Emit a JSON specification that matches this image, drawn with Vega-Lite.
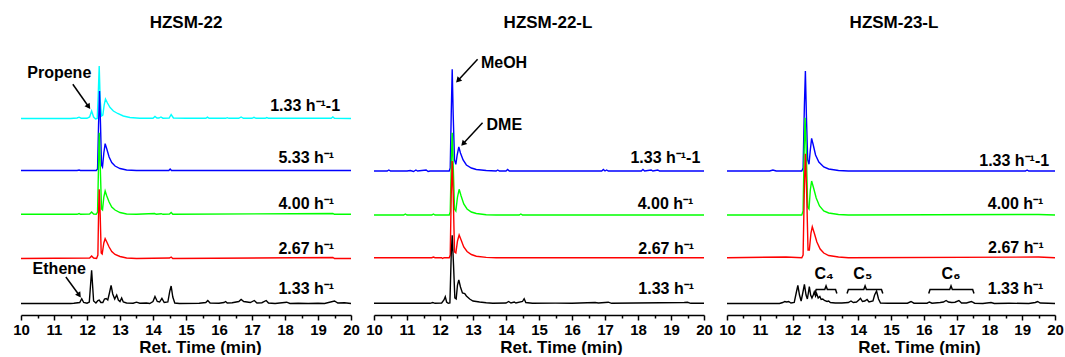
{
  "$schema": "https://vega.github.io/schema/vega-lite/v6.json",
  "autosize": {"type": "pad"},
  "padding": {"left": 12, "top": 14, "right": 3, "bottom": 0},
  "background": "white",
  "spacing": 23,
  "bounds": "flush",
  "config": {
    "view": {"stroke": null},
    "font": "Liberation Sans",
    "axis": {"grid": false, "domainColor": "black", "tickColor": "black", "labelColor": "black", "titleColor": "black", "domainWidth": 1.5, "tickWidth": 1.5, "labelFont": "Liberation Sans", "titleFont": "Liberation Sans"},
    "title": {"font": "Liberation Sans", "fontSize": 17, "fontWeight": "bold", "color": "black", "anchor": "middle", "frame": "group", "baseline": "alphabetic", "offset": 14}
  },
  "resolve": {"scale": {"color": "independent"}},
  "datasets": {
    "p1": [
      {"s":"1.33-1","t":10,"v":196.5},{"s":"1.33-1","t":11.5,"v":196.5},{"s":"1.33-1","t":11.7,"v":197},{"s":"1.33-1","t":11.76,"v":197.8},{"s":"1.33-1","t":11.82,"v":196.8},{"s":"1.33-1","t":12.0,"v":196.7},{"s":"1.33-1","t":12.08,"v":198},{"s":"1.33-1","t":12.14,"v":204},{"s":"1.33-1","t":12.2,"v":198},{"s":"1.33-1","t":12.26,"v":196},{"s":"1.33-1","t":12.31,"v":196.5},{"s":"1.33-1","t":12.34,"v":220},{"s":"1.33-1","t":12.37,"v":249},{"s":"1.33-1","t":12.4,"v":215},{"s":"1.33-1","t":12.44,"v":199},{"s":"1.33-1","t":12.48,"v":200},{"s":"1.33-1","t":12.52,"v":210},{"s":"1.33-1","t":12.56,"v":216},{"s":"1.33-1","t":12.62,"v":212},{"s":"1.33-1","t":12.7,"v":207.5},{"s":"1.33-1","t":12.8,"v":204},{"s":"1.33-1","t":12.93,"v":201.5},{"s":"1.33-1","t":13.1,"v":199},{"s":"1.33-1","t":13.3,"v":197.5},{"s":"1.33-1","t":13.6,"v":196.8},{"s":"1.33-1","t":14.0,"v":196.8},{"s":"1.33-1","t":14.06,"v":198.5},{"s":"1.33-1","t":14.12,"v":197},{"s":"1.33-1","t":14.18,"v":197},{"s":"1.33-1","t":14.24,"v":198},{"s":"1.33-1","t":14.3,"v":196.8},{"s":"1.33-1","t":14.49,"v":197},{"s":"1.33-1","t":14.55,"v":200.5},{"s":"1.33-1","t":14.62,"v":197},{"s":"1.33-1","t":15.0,"v":196.7},{"s":"1.33-1","t":15.6,"v":196.7},{"s":"1.33-1","t":15.65,"v":197.8},{"s":"1.33-1","t":15.7,"v":196.7},{"s":"1.33-1","t":16.2,"v":196.7},{"s":"1.33-1","t":16.25,"v":197.3},{"s":"1.33-1","t":16.3,"v":196.7},{"s":"1.33-1","t":16.6,"v":196.7},{"s":"1.33-1","t":16.67,"v":198},{"s":"1.33-1","t":16.74,"v":196.7},{"s":"1.33-1","t":17.0,"v":196.7},{"s":"1.33-1","t":17.06,"v":197.7},{"s":"1.33-1","t":17.12,"v":196.7},{"s":"1.33-1","t":17.4,"v":196.7},{"s":"1.33-1","t":17.45,"v":197.5},{"s":"1.33-1","t":17.5,"v":196.7},{"s":"1.33-1","t":19.4,"v":196.7},{"s":"1.33-1","t":19.45,"v":198},{"s":"1.33-1","t":19.5,"v":196.7},{"s":"1.33-1","t":20,"v":196.5},
      {"s":"5.33","t":10,"v":144.5},{"s":"5.33","t":11.7,"v":144.5},{"s":"5.33","t":11.76,"v":145},{"s":"5.33","t":11.8,"v":144.5},{"s":"5.33","t":12.28,"v":144.5},{"s":"5.33","t":12.32,"v":146},{"s":"5.33","t":12.35,"v":190},{"s":"5.33","t":12.38,"v":224},{"s":"5.33","t":12.41,"v":190},{"s":"5.33","t":12.44,"v":150},{"s":"5.33","t":12.47,"v":148},{"s":"5.33","t":12.51,"v":162},{"s":"5.33","t":12.55,"v":171.3},{"s":"5.33","t":12.6,"v":166},{"s":"5.33","t":12.67,"v":158},{"s":"5.33","t":12.75,"v":152.5},{"s":"5.33","t":12.85,"v":149},{"s":"5.33","t":13.0,"v":146.5},{"s":"5.33","t":13.2,"v":145},{"s":"5.33","t":13.5,"v":144.5},{"s":"5.33","t":14.48,"v":144.5},{"s":"5.33","t":14.52,"v":146},{"s":"5.33","t":14.56,"v":144.5},{"s":"5.33","t":20,"v":144.5},
      {"s":"4.00","t":10,"v":100.7},{"s":"4.00","t":11.7,"v":100.7},{"s":"4.00","t":11.76,"v":101.5},{"s":"4.00","t":11.8,"v":100.7},{"s":"4.00","t":12.08,"v":101},{"s":"4.00","t":12.14,"v":103},{"s":"4.00","t":12.2,"v":101},{"s":"4.00","t":12.28,"v":100.7},{"s":"4.00","t":12.32,"v":103},{"s":"4.00","t":12.35,"v":150},{"s":"4.00","t":12.37,"v":182.3},{"s":"4.00","t":12.4,"v":150},{"s":"4.00","t":12.44,"v":106},{"s":"4.00","t":12.47,"v":105},{"s":"4.00","t":12.51,"v":118},{"s":"4.00","t":12.55,"v":124},{"s":"4.00","t":12.6,"v":119},{"s":"4.00","t":12.67,"v":113},{"s":"4.00","t":12.75,"v":108},{"s":"4.00","t":12.85,"v":105},{"s":"4.00","t":13.0,"v":102.5},{"s":"4.00","t":13.2,"v":101},{"s":"4.00","t":13.5,"v":100.7},{"s":"4.00","t":14.05,"v":101.5},{"s":"4.00","t":14.1,"v":100.7},{"s":"4.00","t":14.25,"v":101.3},{"s":"4.00","t":14.3,"v":100.7},{"s":"4.00","t":14.5,"v":101},{"s":"4.00","t":14.55,"v":102.5},{"s":"4.00","t":14.6,"v":100.7},{"s":"4.00","t":19.45,"v":101.5},{"s":"4.00","t":19.5,"v":100.7},{"s":"4.00","t":20,"v":100.7},
      {"s":"2.67","t":10,"v":56.5},{"s":"2.67","t":12.08,"v":57},{"s":"2.67","t":12.14,"v":59},{"s":"2.67","t":12.2,"v":57},{"s":"2.67","t":12.29,"v":56.5},{"s":"2.67","t":12.33,"v":60},{"s":"2.67","t":12.35,"v":100},{"s":"2.67","t":12.37,"v":125.7},{"s":"2.67","t":12.4,"v":100},{"s":"2.67","t":12.43,"v":62},{"s":"2.67","t":12.46,"v":61},{"s":"2.67","t":12.51,"v":72},{"s":"2.67","t":12.55,"v":76.3},{"s":"2.67","t":12.6,"v":73},{"s":"2.67","t":12.67,"v":68},{"s":"2.67","t":12.75,"v":63.5},{"s":"2.67","t":12.85,"v":60.5},{"s":"2.67","t":13.0,"v":58.5},{"s":"2.67","t":13.2,"v":57},{"s":"2.67","t":13.5,"v":56.5},{"s":"2.67","t":14.5,"v":57},{"s":"2.67","t":14.55,"v":58},{"s":"2.67","t":14.6,"v":56.5},{"s":"2.67","t":19.45,"v":57.5},{"s":"2.67","t":19.5,"v":56.5},{"s":"2.67","t":20,"v":56.5},
      {"s":"1.33","t":10,"v":11.5},{"s":"1.33","t":11.5,"v":11.5},{"s":"1.33","t":11.6,"v":11.8},{"s":"1.33","t":11.78,"v":12.5},{"s":"1.33","t":11.84,"v":16.3},{"s":"1.33","t":11.9,"v":12.5},{"s":"1.33","t":12.0,"v":11.8},{"s":"1.33","t":12.07,"v":13},{"s":"1.33","t":12.14,"v":44.7},{"s":"1.33","t":12.2,"v":14},{"s":"1.33","t":12.27,"v":12},{"s":"1.33","t":12.33,"v":14.5},{"s":"1.33","t":12.37,"v":15},{"s":"1.33","t":12.42,"v":12.5},{"s":"1.33","t":12.48,"v":12.5},{"s":"1.33","t":12.53,"v":16},{"s":"1.33","t":12.58,"v":16.5},{"s":"1.33","t":12.63,"v":15},{"s":"1.33","t":12.68,"v":22},{"s":"1.33","t":12.73,"v":29.7},{"s":"1.33","t":12.78,"v":21},{"s":"1.33","t":12.84,"v":16},{"s":"1.33","t":12.9,"v":20},{"s":"1.33","t":12.95,"v":15},{"s":"1.33","t":13.0,"v":13.5},{"s":"1.33","t":13.05,"v":17},{"s":"1.33","t":13.1,"v":13},{"s":"1.33","t":13.2,"v":12},{"s":"1.33","t":13.4,"v":11.8},{"s":"1.33","t":13.5,"v":12.8},{"s":"1.33","t":13.6,"v":11.8},{"s":"1.33","t":13.8,"v":12},{"s":"1.33","t":13.9,"v":11.5},{"s":"1.33","t":14.0,"v":13.5},{"s":"1.33","t":14.06,"v":18.5},{"s":"1.33","t":14.13,"v":13.5},{"s":"1.33","t":14.2,"v":13},{"s":"1.33","t":14.27,"v":16.7},{"s":"1.33","t":14.34,"v":12.5},{"s":"1.33","t":14.45,"v":13},{"s":"1.33","t":14.51,"v":24},{"s":"1.33","t":14.55,"v":29},{"s":"1.33","t":14.6,"v":18},{"s":"1.33","t":14.66,"v":12},{"s":"1.33","t":14.8,"v":11.5},{"s":"1.33","t":15.4,"v":11.8},{"s":"1.33","t":15.6,"v":12.5},{"s":"1.33","t":15.66,"v":14.5},{"s":"1.33","t":15.73,"v":12},{"s":"1.33","t":16.0,"v":11.7},{"s":"1.33","t":16.15,"v":12.5},{"s":"1.33","t":16.2,"v":13.5},{"s":"1.33","t":16.25,"v":12},{"s":"1.33","t":16.4,"v":12.3},{"s":"1.33","t":16.6,"v":13.5},{"s":"1.33","t":16.67,"v":15.5},{"s":"1.33","t":16.75,"v":13.5},{"s":"1.33","t":16.85,"v":13},{"s":"1.33","t":16.95,"v":12.5},{"s":"1.33","t":17.07,"v":14.5},{"s":"1.33","t":17.15,"v":12},{"s":"1.33","t":17.3,"v":12.3},{"s":"1.33","t":17.43,"v":14.5},{"s":"1.33","t":17.5,"v":12},{"s":"1.33","t":17.7,"v":11.5},{"s":"1.33","t":18.05,"v":12.8},{"s":"1.33","t":18.15,"v":11.5},{"s":"1.33","t":18.4,"v":11.8},{"s":"1.33","t":18.7,"v":11.5},{"s":"1.33","t":19.0,"v":11.8},{"s":"1.33","t":19.2,"v":11.5},{"s":"1.33","t":19.5,"v":14},{"s":"1.33","t":19.6,"v":12},{"s":"1.33","t":19.8,"v":12.3},{"s":"1.33","t":20,"v":11.5}
    ],
    "p2": [
      {"s":"1.33-1","t":10,"v":144},{"s":"1.33-1","t":10.4,"v":144},{"s":"1.33-1","t":10.45,"v":145},{"s":"1.33-1","t":10.5,"v":144},{"s":"1.33-1","t":11.0,"v":144},{"s":"1.33-1","t":11.1,"v":144.5},{"s":"1.33-1","t":11.2,"v":143.5},{"s":"1.33-1","t":11.27,"v":145},{"s":"1.33-1","t":11.32,"v":144},{"s":"1.33-1","t":11.58,"v":145},{"s":"1.33-1","t":11.64,"v":143.5},{"s":"1.33-1","t":11.7,"v":144},{"s":"1.33-1","t":12.28,"v":144},{"s":"1.33-1","t":12.31,"v":147},{"s":"1.33-1","t":12.34,"v":200},{"s":"1.33-1","t":12.37,"v":245.7},{"s":"1.33-1","t":12.4,"v":200},{"s":"1.33-1","t":12.44,"v":155},{"s":"1.33-1","t":12.48,"v":150.7},{"s":"1.33-1","t":12.52,"v":160},{"s":"1.33-1","t":12.57,"v":168},{"s":"1.33-1","t":12.62,"v":162},{"s":"1.33-1","t":12.7,"v":155},{"s":"1.33-1","t":12.8,"v":150},{"s":"1.33-1","t":12.95,"v":147},{"s":"1.33-1","t":13.1,"v":145.5},{"s":"1.33-1","t":13.4,"v":144.5},{"s":"1.33-1","t":13.7,"v":144},{"s":"1.33-1","t":13.75,"v":145},{"s":"1.33-1","t":13.8,"v":144},{"s":"1.33-1","t":14.0,"v":144},{"s":"1.33-1","t":14.05,"v":145.5},{"s":"1.33-1","t":14.1,"v":144},{"s":"1.33-1","t":16.9,"v":144},{"s":"1.33-1","t":16.95,"v":145.5},{"s":"1.33-1","t":17.0,"v":144},{"s":"1.33-1","t":17.05,"v":145},{"s":"1.33-1","t":17.1,"v":144},{"s":"1.33-1","t":18.1,"v":144},{"s":"1.33-1","t":18.15,"v":145.5},{"s":"1.33-1","t":18.2,"v":144},{"s":"1.33-1","t":18.4,"v":145},{"s":"1.33-1","t":18.45,"v":144},{"s":"1.33-1","t":18.6,"v":145},{"s":"1.33-1","t":18.65,"v":144},{"s":"1.33-1","t":20,"v":144},
      {"s":"4.00","t":10,"v":100},{"s":"4.00","t":10.9,"v":100},{"s":"4.00","t":10.95,"v":101},{"s":"4.00","t":11.0,"v":100},{"s":"4.00","t":11.75,"v":100},{"s":"4.00","t":11.8,"v":101},{"s":"4.00","t":11.85,"v":100},{"s":"4.00","t":12.28,"v":100},{"s":"4.00","t":12.31,"v":103},{"s":"4.00","t":12.34,"v":150},{"s":"4.00","t":12.37,"v":182.3},{"s":"4.00","t":12.4,"v":150},{"s":"4.00","t":12.44,"v":106},{"s":"4.00","t":12.48,"v":104},{"s":"4.00","t":12.53,"v":118},{"s":"4.00","t":12.58,"v":125.7},{"s":"4.00","t":12.64,"v":119},{"s":"4.00","t":12.72,"v":111},{"s":"4.00","t":12.82,"v":106},{"s":"4.00","t":12.95,"v":103},{"s":"4.00","t":13.1,"v":101.5},{"s":"4.00","t":13.4,"v":100.3},{"s":"4.00","t":13.7,"v":100},{"s":"4.00","t":14.4,"v":100},{"s":"4.00","t":14.45,"v":101},{"s":"4.00","t":14.5,"v":100},{"s":"4.00","t":20,"v":100},
      {"s":"2.67","t":10,"v":57.3},{"s":"2.67","t":11.75,"v":57.3},{"s":"2.67","t":11.8,"v":58},{"s":"2.67","t":11.85,"v":57.3},{"s":"2.67","t":12.05,"v":57.3},{"s":"2.67","t":12.08,"v":56.5},{"s":"2.67","t":12.12,"v":57.3},{"s":"2.67","t":12.28,"v":57.3},{"s":"2.67","t":12.31,"v":60},{"s":"2.67","t":12.34,"v":120},{"s":"2.67","t":12.37,"v":154},{"s":"2.67","t":12.4,"v":120},{"s":"2.67","t":12.44,"v":63},{"s":"2.67","t":12.48,"v":62},{"s":"2.67","t":12.53,"v":74},{"s":"2.67","t":12.58,"v":80},{"s":"2.67","t":12.64,"v":75},{"s":"2.67","t":12.72,"v":68},{"s":"2.67","t":12.82,"v":63.5},{"s":"2.67","t":12.95,"v":60.5},{"s":"2.67","t":13.1,"v":58.8},{"s":"2.67","t":13.4,"v":57.6},{"s":"2.67","t":13.7,"v":57.3},{"s":"2.67","t":20,"v":57.3},
      {"s":"1.33","t":10,"v":11.7},{"s":"1.33","t":11.7,"v":11.7},{"s":"1.33","t":11.78,"v":12.5},{"s":"1.33","t":11.85,"v":11.7},{"s":"1.33","t":12.05,"v":12},{"s":"1.33","t":12.12,"v":15},{"s":"1.33","t":12.16,"v":18.3},{"s":"1.33","t":12.2,"v":13},{"s":"1.33","t":12.25,"v":11.7},{"s":"1.33","t":12.3,"v":12},{"s":"1.33","t":12.34,"v":60},{"s":"1.33","t":12.37,"v":79.7},{"s":"1.33","t":12.41,"v":50},{"s":"1.33","t":12.45,"v":17},{"s":"1.33","t":12.49,"v":16},{"s":"1.33","t":12.53,"v":30},{"s":"1.33","t":12.57,"v":35},{"s":"1.33","t":12.62,"v":28},{"s":"1.33","t":12.68,"v":22},{"s":"1.33","t":12.75,"v":21.5},{"s":"1.33","t":12.8,"v":19},{"s":"1.33","t":12.9,"v":16},{"s":"1.33","t":13.0,"v":14},{"s":"1.33","t":13.2,"v":13},{"s":"1.33","t":13.4,"v":12.2},{"s":"1.33","t":13.6,"v":11.8},{"s":"1.33","t":14.0,"v":12},{"s":"1.33","t":14.08,"v":13.5},{"s":"1.33","t":14.15,"v":12},{"s":"1.33","t":14.25,"v":13},{"s":"1.33","t":14.3,"v":12},{"s":"1.33","t":14.5,"v":13.5},{"s":"1.33","t":14.55,"v":16.3},{"s":"1.33","t":14.6,"v":12.5},{"s":"1.33","t":14.8,"v":11.7},{"s":"1.33","t":15.5,"v":11.9},{"s":"1.33","t":16.0,"v":11.7},{"s":"1.33","t":16.7,"v":12.5},{"s":"1.33","t":16.8,"v":12},{"s":"1.33","t":17.1,"v":12.8},{"s":"1.33","t":17.2,"v":11.7},{"s":"1.33","t":19.4,"v":12.5},{"s":"1.33","t":19.5,"v":12.7},{"s":"1.33","t":19.6,"v":11.7},{"s":"1.33","t":20,"v":11.7}
    ],
    "p3": [
      {"s":"1.33-1","t":10,"v":144},{"s":"1.33-1","t":11.3,"v":144},{"s":"1.33-1","t":11.4,"v":145},{"s":"1.33-1","t":11.5,"v":144},{"s":"1.33-1","t":12.28,"v":144},{"s":"1.33-1","t":12.32,"v":147},{"s":"1.33-1","t":12.36,"v":210},{"s":"1.33-1","t":12.39,"v":244},{"s":"1.33-1","t":12.42,"v":200},{"s":"1.33-1","t":12.46,"v":155},{"s":"1.33-1","t":12.5,"v":150.7},{"s":"1.33-1","t":12.54,"v":165},{"s":"1.33-1","t":12.58,"v":176.7},{"s":"1.33-1","t":12.63,"v":170},{"s":"1.33-1","t":12.7,"v":160},{"s":"1.33-1","t":12.8,"v":153},{"s":"1.33-1","t":12.95,"v":148},{"s":"1.33-1","t":13.1,"v":146},{"s":"1.33-1","t":13.4,"v":144.5},{"s":"1.33-1","t":13.7,"v":144},{"s":"1.33-1","t":19.1,"v":144},{"s":"1.33-1","t":19.15,"v":145},{"s":"1.33-1","t":19.2,"v":144},{"s":"1.33-1","t":20,"v":144},
      {"s":"4.00","t":10,"v":100},{"s":"4.00","t":12.28,"v":100},{"s":"4.00","t":12.32,"v":104},{"s":"4.00","t":12.35,"v":160},{"s":"4.00","t":12.38,"v":197.3},{"s":"4.00","t":12.42,"v":160},{"s":"4.00","t":12.46,"v":108},{"s":"4.00","t":12.5,"v":106},{"s":"4.00","t":12.54,"v":125},{"s":"4.00","t":12.58,"v":134},{"s":"4.00","t":12.64,"v":127},{"s":"4.00","t":12.72,"v":117},{"s":"4.00","t":12.82,"v":109},{"s":"4.00","t":12.95,"v":104},{"s":"4.00","t":13.1,"v":102},{"s":"4.00","t":13.4,"v":100.5},{"s":"4.00","t":13.7,"v":100},{"s":"4.00","t":19.5,"v":100.5},{"s":"4.00","t":20,"v":100},
      {"s":"2.67","t":10,"v":57.3},{"s":"2.67","t":11.8,"v":58},{"s":"2.67","t":12.28,"v":57.3},{"s":"2.67","t":12.32,"v":60},{"s":"2.67","t":12.36,"v":130},{"s":"2.67","t":12.39,"v":161.3},{"s":"2.67","t":12.43,"v":120},{"s":"2.67","t":12.47,"v":65},{"s":"2.67","t":12.51,"v":65},{"s":"2.67","t":12.56,"v":82},{"s":"2.67","t":12.6,"v":88.3},{"s":"2.67","t":12.66,"v":82},{"s":"2.67","t":12.74,"v":73},{"s":"2.67","t":12.84,"v":66},{"s":"2.67","t":12.95,"v":62},{"s":"2.67","t":13.1,"v":59.5},{"s":"2.67","t":13.4,"v":58},{"s":"2.67","t":13.7,"v":57.3},{"s":"2.67","t":19.5,"v":58},{"s":"2.67","t":20,"v":57.3},
      {"s":"1.33","t":10,"v":11.5},{"s":"1.33","t":11.6,"v":11.5},{"s":"1.33","t":11.7,"v":12.5},{"s":"1.33","t":11.76,"v":13.5},{"s":"1.33","t":11.82,"v":13},{"s":"1.33","t":11.88,"v":13.5},{"s":"1.33","t":11.95,"v":12},{"s":"1.33","t":12.05,"v":12.5},{"s":"1.33","t":12.11,"v":22},{"s":"1.33","t":12.16,"v":29.7},{"s":"1.33","t":12.21,"v":20},{"s":"1.33","t":12.26,"v":14},{"s":"1.33","t":12.31,"v":22},{"s":"1.33","t":12.36,"v":30.7},{"s":"1.33","t":12.41,"v":20},{"s":"1.33","t":12.45,"v":16},{"s":"1.33","t":12.48,"v":22},{"s":"1.33","t":12.51,"v":28.3},{"s":"1.33","t":12.55,"v":20},{"s":"1.33","t":12.59,"v":17},{"s":"1.33","t":12.63,"v":20},{"s":"1.33","t":12.66,"v":23},{"s":"1.33","t":12.7,"v":19},{"s":"1.33","t":12.73,"v":21.7},{"s":"1.33","t":12.78,"v":17},{"s":"1.33","t":12.83,"v":18.5},{"s":"1.33","t":12.87,"v":15.5},{"s":"1.33","t":12.92,"v":16},{"s":"1.33","t":12.97,"v":14.5},{"s":"1.33","t":13.05,"v":13.5},{"s":"1.33","t":13.1,"v":14},{"s":"1.33","t":13.15,"v":12.5},{"s":"1.33","t":13.3,"v":12},{"s":"1.33","t":13.5,"v":12},{"s":"1.33","t":13.7,"v":12.5},{"s":"1.33","t":13.78,"v":14},{"s":"1.33","t":13.85,"v":12.5},{"s":"1.33","t":13.95,"v":13},{"s":"1.33","t":14.02,"v":15},{"s":"1.33","t":14.07,"v":16.7},{"s":"1.33","t":14.13,"v":13.5},{"s":"1.33","t":14.2,"v":14},{"s":"1.33","t":14.27,"v":15.5},{"s":"1.33","t":14.33,"v":13},{"s":"1.33","t":14.45,"v":14},{"s":"1.33","t":14.5,"v":20},{"s":"1.33","t":14.56,"v":24},{"s":"1.33","t":14.62,"v":16},{"s":"1.33","t":14.68,"v":12},{"s":"1.33","t":14.9,"v":11.8},{"s":"1.33","t":15.5,"v":11.8},{"s":"1.33","t":15.61,"v":13.5},{"s":"1.33","t":15.7,"v":11.8},{"s":"1.33","t":16.1,"v":11.8},{"s":"1.33","t":16.17,"v":13},{"s":"1.33","t":16.25,"v":11.8},{"s":"1.33","t":16.5,"v":12.5},{"s":"1.33","t":16.6,"v":13},{"s":"1.33","t":16.68,"v":14.5},{"s":"1.33","t":16.75,"v":13},{"s":"1.33","t":16.85,"v":12.5},{"s":"1.33","t":16.95,"v":12.8},{"s":"1.33","t":17.07,"v":14.5},{"s":"1.33","t":17.15,"v":12},{"s":"1.33","t":17.3,"v":12},{"s":"1.33","t":17.45,"v":13.5},{"s":"1.33","t":17.55,"v":11.8},{"s":"1.33","t":17.8,"v":11.5},{"s":"1.33","t":18.05,"v":12.5},{"s":"1.33","t":18.15,"v":11.5},{"s":"1.33","t":18.6,"v":11.8},{"s":"1.33","t":19.2,"v":11.5},{"s":"1.33","t":19.4,"v":12.5},{"s":"1.33","t":19.47,"v":13.5},{"s":"1.33","t":19.55,"v":12},{"s":"1.33","t":19.8,"v":11.8},{"s":"1.33","t":20,"v":11.5}
    ],
    "lab1": [{"t":17.55,"v":209,"text":"1.33 h⁻¹-1"},{"t":17.8,"v":157.3,"text":"5.33 h⁻¹"},{"t":17.8,"v":111,"text":"4.00 h⁻¹"},{"t":17.8,"v":66,"text":"2.67 h⁻¹"},{"t":17.8,"v":26,"text":"1.33 h⁻¹"}],
    "lab2": [{"t":17.77,"v":157.3,"text":"1.33 h⁻¹-1"},{"t":17.99,"v":110.7,"text":"4.00 h⁻¹"},{"t":18.01,"v":66.3,"text":"2.67 h⁻¹"},{"t":18.01,"v":25.7,"text":"1.33 h⁻¹"}],
    "lab3": [{"t":17.69,"v":154,"text":"1.33 h⁻¹-1"},{"t":17.95,"v":110.7,"text":"4.00 h⁻¹"},{"t":17.96,"v":66.7,"text":"2.67 h⁻¹"},{"t":17.95,"v":25.7,"text":"1.33 h⁻¹"}],
    "note1": [{"t":11.16,"v":242.3,"text":"Propene"},{"t":11.16,"v":45.7,"text":"Ethene"}],
    "note2": [{"t":13.94,"v":252.3,"text":"MeOH"},{"t":13.95,"v":190,"text":"DME"}],
    "note3": [{"t":12.96,"v":41,"text":"C₄"},{"t":14.14,"v":41,"text":"C₅"},{"t":16.83,"v":41,"text":"C₆"}],
    "arr1": [{"t1":11.57,"v1":230.7,"t2":12.05,"v2":208.2},{"t1":11.36,"v1":38,"t2":11.765,"v2":19.7}],
    "arr2": [{"t1":13.14,"v1":255.7,"t2":12.545,"v2":234.5},{"t1":13.29,"v1":192.3,"t2":12.7,"v2":171.2}],
    "br3": [
      {"b":"C4","t":12.68,"v":21.5},{"b":"C4","t":12.72,"v":25.5},{"b":"C4","t":12.98,"v":25.5},{"b":"C4","t":13.02,"v":29},{"b":"C4","t":13.06,"v":25.5},{"b":"C4","t":13.31,"v":25.5},{"b":"C4","t":13.35,"v":21.5},
      {"b":"C5","t":13.66,"v":21.5},{"b":"C5","t":13.7,"v":25.5},{"b":"C5","t":14.17,"v":25.5},{"b":"C5","t":14.21,"v":29},{"b":"C5","t":14.25,"v":25.5},{"b":"C5","t":14.71,"v":25.5},{"b":"C5","t":14.75,"v":21.5},
      {"b":"C6","t":16.15,"v":21.5},{"b":"C6","t":16.19,"v":25.5},{"b":"C6","t":16.79,"v":25.5},{"b":"C6","t":16.83,"v":29},{"b":"C6","t":16.87,"v":25.5},{"b":"C6","t":17.49,"v":25.5},{"b":"C6","t":17.53,"v":21.5}
    ]
  },
  "hconcat": [
    {
      "width": 330, "height": 269,
      "title": {"text": "HZSM-22"},
      "resolve": {"axis": {"x": "independent"}},
      "layer": [
        {"data": {"name": "p1"}, "mark": {"type": "line", "strokeWidth": 1.4},
         "encoding": {
           "x": {"field": "t", "type": "quantitative", "scale": {"domain": [10, 20], "nice": false, "zero": false},
                 "axis": {"orient": "bottom", "values": [10,11,12,13,14,15,16,17,18,19,20], "format": "d", "tickSize": 5, "labelFontSize": 15, "labelFontWeight": "bold", "labelPadding": 2, "labelFlush": false, "labelOverlap": false, "title": "Ret. Time (min)", "titleFontSize": 17, "titleFontWeight": "bold", "titlePadding": 2, "titleX": 179}},
           "y": {"field": "v", "type": "quantitative", "scale": {"domain": [0, 269], "nice": false, "zero": false}, "axis": null},
           "color": {"field": "s", "type": "nominal", "scale": {"domain": ["1.33-1", "5.33", "4.00", "2.67", "1.33"], "range": ["#00FFFF", "#0000FF", "#00FF00", "#FF0000", "#000000"]}, "legend": null}
         }},
        {"data": {"name": "lab1"}, "mark": {"type": "text", "align": "left", "baseline": "middle", "fontSize": 16, "fontWeight": "bold", "font": "Liberation Sans", "color": "black"},
         "encoding": {
           "x": {"field": "t", "type": "quantitative", "axis": {"orient": "bottom", "values": [10.5,11.5,12.5,13.5,14.5,15.5,16.5,17.5,18.5,19.5], "labels": false, "domain": false, "tickSize": 3, "title": null}},
           "y": {"field": "v", "type": "quantitative", "axis": null},
           "text": {"field": "text"}
         }},
        {"data": {"name": "note1"}, "mark": {"type": "text", "align": "center", "baseline": "middle", "fontSize": 16, "fontWeight": "bold", "font": "Liberation Sans", "color": "black"},
         "encoding": {
           "x": {"field": "t", "type": "quantitative", "axis": null},
           "y": {"field": "v", "type": "quantitative", "axis": null},
           "text": {"field": "text"}
         }},
        {"data": {"name": "arr1"}, "mark": {"type": "rule", "strokeWidth": 1.5, "color": "black"},
         "encoding": {
           "x": {"field": "t1", "type": "quantitative", "axis": null},
           "y": {"field": "v1", "type": "quantitative", "axis": null},
           "x2": {"field": "t2"}, "y2": {"field": "v2"}
         }},
        {"data": {"name": "arr1"}, "mark": {"type": "point", "shape": "triangle-up", "filled": true, "size": 40, "angle": 145, "color": "black", "opacity": 1},
         "encoding": {
           "x": {"field": "t2", "type": "quantitative", "axis": null},
           "y": {"field": "v2", "type": "quantitative", "axis": null}
         }}
      ]
    },
    {
      "width": 330, "height": 269,
      "title": {"text": "HZSM-22-L", "dx": 9},
      "resolve": {"axis": {"x": "independent"}},
      "layer": [
        {"data": {"name": "p2"}, "mark": {"type": "line", "strokeWidth": 1.4},
         "encoding": {
           "x": {"field": "t", "type": "quantitative", "scale": {"domain": [10, 20], "nice": false, "zero": false},
                 "axis": {"orient": "bottom", "values": [10,11,12,13,14,15,16,17,18,19,20], "format": "d", "tickSize": 5, "labelFontSize": 15, "labelFontWeight": "bold", "labelPadding": 2, "labelFlush": false, "labelOverlap": false, "title": "Ret. Time (min)", "titleFontSize": 17, "titleFontWeight": "bold", "titlePadding": 2, "titleX": 187}},
           "y": {"field": "v", "type": "quantitative", "scale": {"domain": [0, 269], "nice": false, "zero": false}, "axis": null},
           "color": {"field": "s", "type": "nominal", "scale": {"domain": ["1.33-1", "4.00", "2.67", "1.33"], "range": ["#0000FF", "#00FF00", "#FF0000", "#000000"]}, "legend": null}
         }},
        {"data": {"name": "lab2"}, "mark": {"type": "text", "align": "left", "baseline": "middle", "fontSize": 16, "fontWeight": "bold", "font": "Liberation Sans", "color": "black"},
         "encoding": {
           "x": {"field": "t", "type": "quantitative", "axis": {"orient": "bottom", "values": [10.5,11.5,12.5,13.5,14.5,15.5,16.5,17.5,18.5,19.5], "labels": false, "domain": false, "tickSize": 3, "title": null}},
           "y": {"field": "v", "type": "quantitative", "axis": null},
           "text": {"field": "text"}
         }},
        {"data": {"name": "note2"}, "mark": {"type": "text", "align": "center", "baseline": "middle", "fontSize": 16, "fontWeight": "bold", "font": "Liberation Sans", "color": "black"},
         "encoding": {
           "x": {"field": "t", "type": "quantitative", "axis": null},
           "y": {"field": "v", "type": "quantitative", "axis": null},
           "text": {"field": "text"}
         }},
        {"data": {"name": "arr2"}, "mark": {"type": "rule", "strokeWidth": 1.5, "color": "black"},
         "encoding": {
           "x": {"field": "t1", "type": "quantitative", "axis": null},
           "y": {"field": "v1", "type": "quantitative", "axis": null},
           "x2": {"field": "t2"}, "y2": {"field": "v2"}
         }},
        {"data": {"name": "arr2"}, "mark": {"type": "point", "shape": "triangle-up", "filled": true, "size": 40, "angle": 223, "color": "black", "opacity": 1},
         "encoding": {
           "x": {"field": "t2", "type": "quantitative", "axis": null},
           "y": {"field": "v2", "type": "quantitative", "axis": null}
         }}
      ]
    },
    {
      "width": 328, "height": 269,
      "title": {"text": "HZSM-23-L", "dx": 3},
      "resolve": {"axis": {"x": "independent"}},
      "layer": [
        {"data": {"name": "p3"}, "mark": {"type": "line", "strokeWidth": 1.4},
         "encoding": {
           "x": {"field": "t", "type": "quantitative", "scale": {"domain": [10, 20], "nice": false, "zero": false},
                 "axis": {"orient": "bottom", "values": [10,11,12,13,14,15,16,17,18,19,20], "format": "d", "tickSize": 5, "labelFontSize": 15, "labelFontWeight": "bold", "labelPadding": 2, "labelFlush": false, "labelOverlap": false, "title": "Ret. Time (min)", "titleFontSize": 17, "titleFontWeight": "bold", "titlePadding": 2, "titleX": 192}},
           "y": {"field": "v", "type": "quantitative", "scale": {"domain": [0, 269], "nice": false, "zero": false}, "axis": null},
           "color": {"field": "s", "type": "nominal", "scale": {"domain": ["1.33-1", "4.00", "2.67", "1.33"], "range": ["#0000FF", "#00FF00", "#FF0000", "#000000"]}, "legend": null}
         }},
        {"data": {"name": "lab3"}, "mark": {"type": "text", "align": "left", "baseline": "middle", "fontSize": 16, "fontWeight": "bold", "font": "Liberation Sans", "color": "black"},
         "encoding": {
           "x": {"field": "t", "type": "quantitative", "axis": {"orient": "bottom", "values": [10.5,11.5,12.5,13.5,14.5,15.5,16.5,17.5,18.5,19.5], "labels": false, "domain": false, "tickSize": 3, "title": null}},
           "y": {"field": "v", "type": "quantitative", "axis": null},
           "text": {"field": "text"}
         }},
        {"data": {"name": "note3"}, "mark": {"type": "text", "align": "center", "baseline": "middle", "fontSize": 16, "fontWeight": "bold", "font": "Liberation Sans", "color": "black"},
         "encoding": {
           "x": {"field": "t", "type": "quantitative", "axis": null},
           "y": {"field": "v", "type": "quantitative", "axis": null},
           "text": {"field": "text"}
         }},
        {"data": {"name": "br3"}, "mark": {"type": "line", "strokeWidth": 1.5, "color": "black"},
         "encoding": {
           "x": {"field": "t", "type": "quantitative", "axis": null},
           "y": {"field": "v", "type": "quantitative", "axis": null},
           "detail": {"field": "b"}
         }}
      ]
    }
  ]
}
